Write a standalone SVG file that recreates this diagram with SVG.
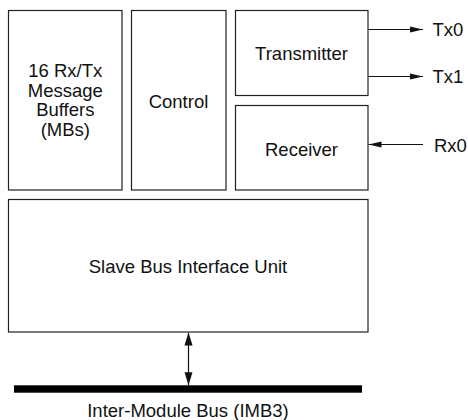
<svg xmlns="http://www.w3.org/2000/svg" width="468" height="420" viewBox="0 0 468 420">
<style>
.box{fill:#fff;stroke:#222;stroke-width:1.2}
.t{font-family:"Liberation Sans",Arial,sans-serif;font-size:18.5px;fill:#111;text-anchor:middle}
.l{font-family:"Liberation Sans",Arial,sans-serif;font-size:18.5px;fill:#111}
.c{stroke:#111;stroke-width:1.2;fill:none}
</style>
<defs>
<marker id="ah" markerWidth="14" markerHeight="8" refX="13" refY="4" orient="auto" markerUnits="userSpaceOnUse">
<path d="M0,1 L13,4 L0,7 Z" fill="#111"/>
</marker>
<marker id="av" markerWidth="14" markerHeight="10" refX="13" refY="5" orient="auto-start-reverse" markerUnits="userSpaceOnUse">
<path d="M0,1 L13,5 L0,9 Z" fill="#111"/>
</marker>
</defs>
<g id="buffers">
<rect class="box" x="8.5" y="10.5" width="113.5" height="179.5"/>
<text class="t" x="65.3" y="77">16 Rx/Tx</text>
<text class="t" x="65.3" y="96.5">Message</text>
<text class="t" x="65.3" y="116">Buffers</text>
<text class="t" x="65.3" y="135.5">(MBs)</text>
</g>
<g id="control">
<rect class="box" x="131.5" y="10.5" width="94.5" height="179.5"/>
<text class="t" x="178.5" y="108.3">Control</text>
</g>
<g id="transmitter">
<rect class="box" x="235.5" y="10.5" width="132.5" height="85"/>
<text class="t" x="301.5" y="60">Transmitter</text>
</g>
<g id="receiver">
<rect class="box" x="235.5" y="105.5" width="132.5" height="84.5"/>
<text class="t" x="301.5" y="156">Receiver</text>
</g>
<g id="sbiu">
<rect class="box" x="8.5" y="199.5" width="359.5" height="132.5"/>
<text class="t" x="188" y="272.5">Slave Bus Interface Unit</text>
</g>
<g id="imb">
<rect x="14" y="385.3" width="348" height="7.4" fill="#000"/>
<text class="t" x="188" y="416.5">Inter-Module Bus (IMB3)</text>
</g>
<g id="labels">
<text class="l" x="432.5" y="36">Tx0</text>
<text class="l" x="432.5" y="83">Tx1</text>
<text class="l" x="434" y="151.5">Rx0</text>
</g>
<g id="connectors">
<line class="c" x1="368" y1="29.5" x2="423" y2="29.5" marker-end="url(#ah)"/>
<line class="c" x1="368" y1="76.5" x2="423" y2="76.5" marker-end="url(#ah)"/>
<line class="c" x1="423" y1="144.5" x2="368.5" y2="144.5" marker-end="url(#ah)"/>
<line class="c" x1="188.5" y1="332.6" x2="188.5" y2="385.3" marker-start="url(#av)" marker-end="url(#av)"/>
</g>
</svg>
